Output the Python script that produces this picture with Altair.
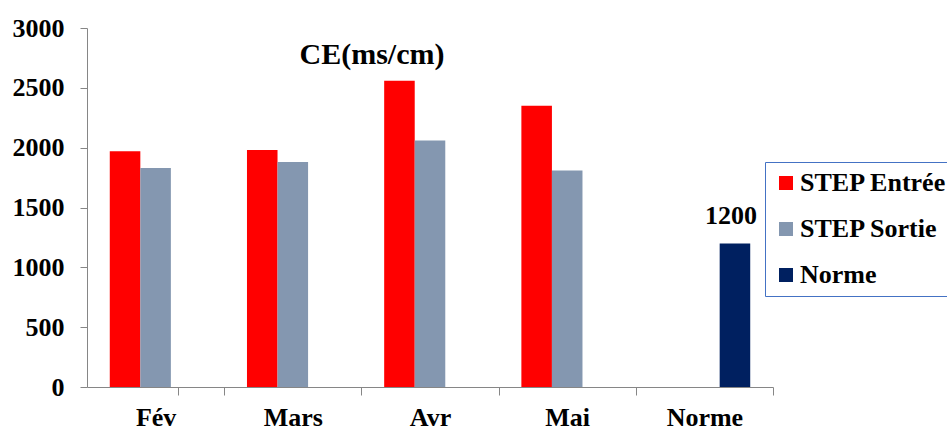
import altair as alt
import pandas as pd

# Conductivity (CE, ms/cm) at the plant inlet and outlet, per month, plus the norm
categories = ["Fév", "Mars", "Avr", "Mai", "Norme"]
step_entree = [1970, 1980, 2560, 2350, None]
step_sortie = [1830, 1880, 2060, 1810, None]
norme = [None, None, None, None, 1200]

series_names = ["STEP Entrée", "STEP Sortie", "Norme"]
series_colors = ["#FF0000", "#8497B0", "#002060"]

rows = []
for i, cat in enumerate(categories):
    for name, vals in zip(series_names, [step_entree, step_sortie, norme]):
        if vals[i] is not None:
            rows.append({"cat": cat, "serie": name, "val": vals[i]})
df = pd.DataFrame(rows)

FONT = "Liberation Serif"
PLOT_W = 686
STEP = PLOT_W / len(categories)

x_enc = alt.X(
    "cat:N",
    sort=categories,
    title=None,
    scale=alt.Scale(paddingInner=0.332, paddingOuter=0.166),
    axis=alt.Axis(
        labelAngle=0,
        grid=False,
        tickOffset=STEP / 2,
        labelOffset=-STEP / 2,
        tickExtra=True,
        tickSize=8,
        labelPadding=9,
        labelFontSize=26,
        labelFont=FONT,
        labelFontWeight="bold",
        labelColor="black",
        domainColor="#868686",
        tickColor="#868686",
    ),
)
xoff_enc = alt.XOffset(
    "serie:N",
    sort=series_names,
    scale=alt.Scale(domain=series_names, paddingInner=0, paddingOuter=0),
)
y_enc = alt.Y(
    "val:Q",
    title=None,
    scale=alt.Scale(domain=[0, 3000], nice=False),
    axis=alt.Axis(
        values=[0, 500, 1000, 1500, 2000, 2500, 3000],
        format="d",
        grid=False,
        tickSize=7,
        labelPadding=16,
        labelFontSize=26,
        labelFont=FONT,
        labelFontWeight="bold",
        labelColor="black",
        domainColor="#868686",
        tickColor="#868686",
    ),
)

bars = alt.Chart(df).mark_bar().encode(
    x=x_enc,
    xOffset=xoff_enc,
    y=y_enc,
    color=alt.Color(
        "serie:N",
        sort=series_names,
        scale=alt.Scale(domain=series_names, range=series_colors),
        legend=alt.Legend(
            title=None,
            orient="none",
            legendX=678,
            legendY=134,
            symbolType="square",
            symbolSize=196,
            symbolStrokeWidth=0,
            labelFont=FONT,
            labelFontSize=26,
            labelFontWeight="bold",
            labelColor="black",
            labelOffset=1,
            labelLimit=400,
            strokeColor="#4472C4",
            padding=8,
            rowPadding=20,
        ),
    ),
)

labels = alt.Chart(df[df["serie"] == "Norme"]).mark_text(
    font=FONT, fontSize=26, fontWeight="bold", color="black",
    baseline="alphabetic", dy=-19, dx=-4,
).encode(
    x=alt.X("cat:N", sort=categories),
    xOffset=xoff_enc,
    y=alt.Y("val:Q"),
    text=alt.Text("val:Q"),
)

chart = (
    alt.layer(bars, labels)
    .properties(
        width=PLOT_W,
        height=359,
        padding={"left": 87, "top": 28, "right": 174, "bottom": 42},
        autosize=alt.AutoSizeParams(type="none"),
        view=alt.ViewBackground(stroke="transparent", strokeWidth=0),
        title=alt.TitleParams(
            "CE(ms/cm)",
            font=FONT,
            fontSize=30,
            fontWeight="bold",
            color="black",
            anchor="middle",
            baseline="alphabetic",
            offset=0,
            dx=-58,
            dy=79,
        ),
    )
    .configure_view(strokeWidth=0, stroke="transparent")
    .configure_legend(strokeWidth=2)
    .configure(background="white")
)

chart.save("out.html", embed_options={"renderer": "svg", "actions": False})
